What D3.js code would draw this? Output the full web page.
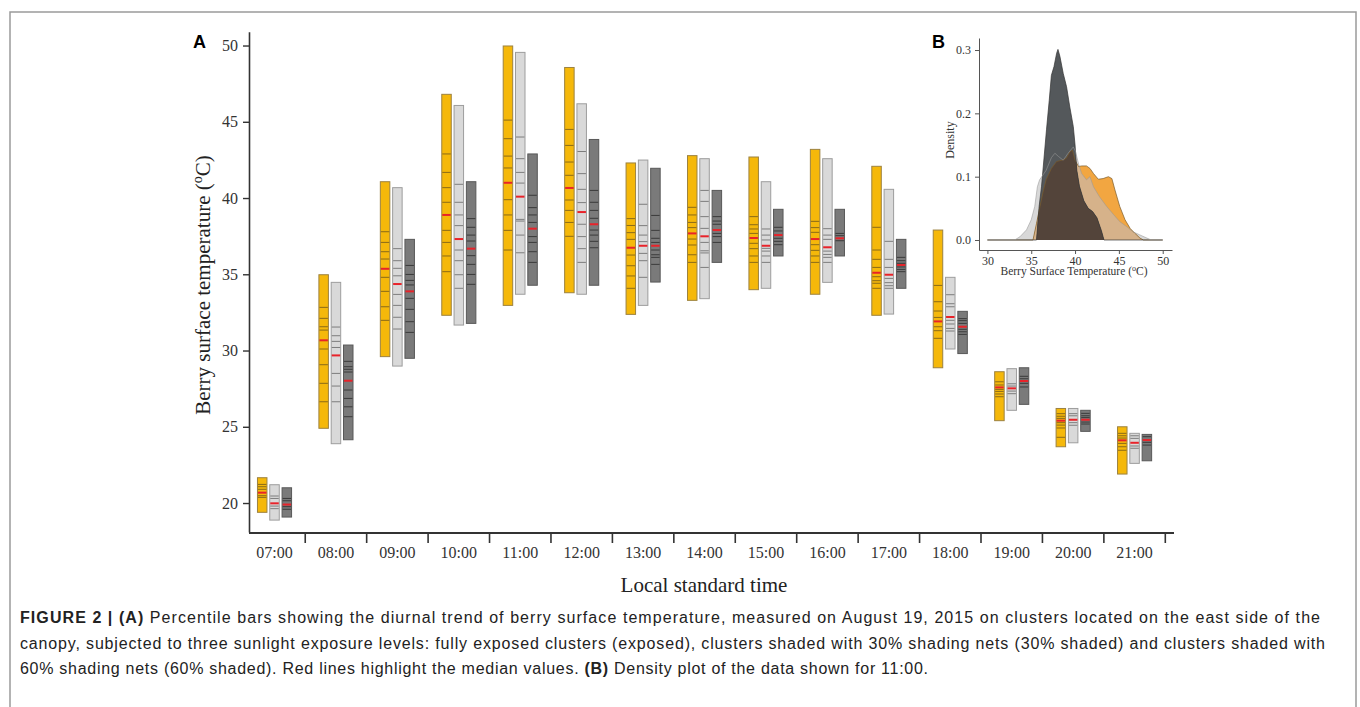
<!DOCTYPE html>
<html>
<head>
<meta charset="utf-8">
<script src="https://cdn.jsdelivr.net/npm/d3@7"></script>
<style>
    body { margin: 0; background: #fff; }
    text { font-family: "Liberation Serif", "Times New Roman", serif; fill: #333; }
    .caption text { font-family: "Liberation Sans", Arial, sans-serif; fill: #222; }
    text.panel { font-family: "Liberation Sans", Arial, sans-serif; font-weight: bold; fill: #000; }
</style>
</head>
<body>
<svg class="chart" width="1360" height="707"></svg>
<script>
'use strict';

// categories
var hours = ["07:00", "08:00", "09:00", "10:00", "11:00", "12:00", "13:00", "14:00",
    "15:00", "16:00", "17:00", "18:00", "19:00", "20:00", "21:00"];
var seriesKeys = ["exposed", "shaded30", "shaded60"];
var yTicks = [20, 25, 30, 35, 40, 45, 50];

// exposed clusters
var exposedMin = [19.39, 24.9, 29.6, 32.31, 32.96, 33.79, 32.37, 33.29, 33.99, 33.69, 32.31, 28.87, 25.4, 23.69, 21.9];
var exposedMax = [21.66, 34.97, 41.07, 46.8, 49.97, 48.56, 42.3, 42.78, 42.69, 43.19, 42.08, 37.9, 28.61, 26.2, 25.0];
var exposedMedian = [20.68, 30.67, 35.36, 38.89, 41.0, 40.66, 36.74, 37.68, 37.38, 37.31, 35.1, 31.91, 27.58, 25.4, 24.11];
var exposedPct = [
    [21.22, 21.07, 20.9, 20.48, 20.37],
    [32.83, 32.11, 31.56, 31.34, 30.1, 29.07, 27.85, 26.64],
    [37.79, 37.09, 36.48, 36.0, 34.8, 33.88, 32.87, 31.98],
    [42.89, 41.68, 40.68, 39.72, 37.88, 37.09, 36.2, 35.17],
    [45.11, 43.89, 42.75, 41.97, 39.89, 38.89, 37.88, 36.59],
    [44.5, 43.45, 42.36, 41.49, 39.87, 39.19, 38.4, 37.49],
    [38.65, 38.2, 37.73, 37.29, 36.26, 35.56, 34.89, 34.08],
    [39.39, 38.89, 38.4, 38.06, 37.31, 36.92, 36.28, 35.78],
    [38.78, 38.25, 37.97, 37.68, 37.03, 36.68, 36.2, 35.78],
    [38.47, 38.06, 37.75, 36.94, 36.57, 36.2, 35.78],
    [38.08, 36.59, 35.98, 35.45, 34.84, 34.58, 34.41, 34.08],
    [34.27, 33.2, 32.59, 32.17, 31.56, 31.3, 30.8],
    [27.95, 27.74, 27.45, 27.32, 27.15, 26.97],
    [25.86, 25.69, 25.55, 25.27, 25.11, 24.92, 24.31],
    [24.57, 24.41, 24.26, 23.91, 23.69, 23.46]
];

// 30% shaded clusters
var shaded30Min = [18.88, 23.89, 28.98, 31.67, 33.69, 33.69, 32.96, 33.4, 34.08, 34.47, 32.39, 30.1, 26.08, 23.95, 22.6];
var shaded30Max = [21.2, 34.47, 40.68, 46.07, 49.55, 46.18, 42.49, 42.58, 41.07, 42.58, 40.57, 34.8, 28.81, 26.2, 24.57];
var shaded30Median = [19.98, 29.68, 34.36, 37.31, 40.09, 39.08, 36.87, 37.49, 36.87, 36.77, 34.97, 32.2, 27.52, 25.46, 23.95];
var shaded30Pct = [
    [20.46, 20.3, 19.8, 19.63],
    [31.54, 30.97, 30.6, 30.2, 28.5, 27.67, 26.64],
    [36.68, 35.89, 35.39, 34.9, 33.68, 32.96, 32.18, 31.41],
    [40.9, 39.72, 38.89, 38.19, 36.59, 35.89, 34.97, 34.08],
    [44.0, 42.58, 41.68, 40.98, 38.6, 38.49, 37.57, 36.41],
    [43.05, 41.6, 40.57, 39.7, 38.28, 37.47, 36.68, 35.78],
    [39.59, 38.19, 37.57, 37.14, 36.37, 35.89, 34.8],
    [40.5, 39.78, 38.78, 38.01, 37.09, 36.54, 36.4, 35.45],
    [37.97, 37.57, 37.25, 36.7, 36.52, 36.2, 35.78],
    [37.99, 37.57, 37.29, 36.52, 36.3, 36.11, 35.78],
    [37.16, 35.98, 35.45, 34.73, 34.45, 34.25, 34.08],
    [33.66, 33.07, 32.87, 31.98, 31.74, 31.45, 31.28],
    [27.82, 27.67, 27.34, 27.17],
    [25.86, 25.72, 25.27, 25.1],
    [24.41, 24.24, 23.74, 23.59]
];

// 60% shaded clusters
var shaded60Min = [19.08, 24.15, 29.49, 31.78, 34.28, 34.28, 34.49, 35.78, 36.2, 36.2, 34.08, 29.8, 26.47, 24.7, 22.77];
var shaded60Max = [21.0, 30.36, 37.29, 41.07, 42.89, 43.84, 41.95, 40.5, 39.26, 39.26, 37.29, 32.57, 28.87, 26.08, 24.5];
var shaded60Median = [19.9, 28.02, 33.88, 36.68, 37.99, 38.28, 36.87, 37.9, 37.57, 37.36, 35.61, 31.56, 28.0, 25.46, 24.13];
var shaded60Pct = [
    [20.3, 20.15, 19.76, 19.59],
    [29.29, 28.94, 28.77, 28.59, 27.41, 26.86, 26.31, 25.66],
    [35.58, 34.99, 34.6, 34.3, 33.42, 32.7, 31.89, 31.19],
    [38.65, 38.08, 37.57, 37.18, 36.22, 35.65, 34.99, 34.34],
    [40.18, 39.37, 38.89, 38.4, 37.47, 37.09, 36.48, 35.78],
    [40.5, 39.72, 39.19, 38.67, 37.9, 37.57, 37.16, 36.74],
    [38.86, 37.88, 37.36, 37.09, 36.59, 36.28, 36.11, 35.65],
    [38.78, 38.49, 38.28, 37.68, 37.47, 37.09],
    [38.08, 37.84, 37.36, 37.16, 36.94],
    [37.68, 37.53, 37.2],
    [36.11, 35.89, 35.72, 35.48, 35.32, 35.17],
    [32.09, 31.96, 31.78, 31.39, 31.23, 31.06],
    [28.31, 28.15, 27.85, 27.61],
    [25.88, 25.72, 25.6, 25.31, 25.18],
    [24.35, 23.98, 23.8]
];

// inset B: density at 11:00, [temperature, density]
var densityTicksX = [30, 35, 40, 45, 50];
var densityTicksY = [0.0, 0.1, 0.2, 0.3];
var exposedDensity = [[30, 0], [35.2, 0], [35.6, 0.026], [36.0, 0.053], [36.4, 0.079], [36.7, 0.095], [37.3, 0.113],
    [37.9, 0.124], [38.5, 0.126], [39.0, 0.129], [39.4, 0.139], [39.7, 0.142], [40.0, 0.126], [40.4, 0.116],
    [40.75, 0.117], [41.3, 0.117], [41.7, 0.113], [42.1, 0.105], [42.65, 0.096], [43.2, 0.097], [43.8, 0.1],
    [44.2, 0.097], [44.55, 0.079], [45.1, 0.053], [45.7, 0.032], [46.3, 0.018], [46.8, 0.011], [47.4, 0.003],
    [47.8, 0], [50, 0]];
var shaded30Density = [[30, 0], [33.1, 0], [33.7, 0.005], [34.46, 0.016], [35.0, 0.032], [35.4, 0.053], [35.7, 0.084],
    [35.95, 0.095], [36.2, 0.1], [36.7, 0.11], [37.3, 0.13], [37.7, 0.137], [38.1, 0.132], [38.65, 0.126],
    [39.2, 0.137], [39.8, 0.147], [40.05, 0.14], [40.4, 0.12], [40.75, 0.105], [41.3, 0.095], [41.7, 0.1],
    [42.1, 0.084], [42.8, 0.068], [43.6, 0.053], [44.4, 0.04], [45.1, 0.029], [45.9, 0.021], [46.6, 0.013],
    [47.4, 0.008], [48.2, 0.003], [48.7, 0], [50, 0]];
var shaded60Density = [[30, 0], [35.6, 0], [35.9, 0.053], [36.17, 0.084], [36.4, 0.12], [36.74, 0.174], [37.05, 0.22],
    [37.3, 0.26], [37.6, 0.274], [37.9, 0.295], [38.05, 0.301], [38.27, 0.29], [38.65, 0.263], [39.03, 0.242],
    [39.4, 0.21], [39.8, 0.179], [40.0, 0.15], [40.2, 0.11], [40.5, 0.085], [41.0, 0.062], [41.5, 0.05],
    [42.0, 0.045], [42.5, 0.035], [43.0, 0.015], [43.3, 0], [50, 0]];

// caption
var captionLines = [
    [["FIGURE 2 | (A)", true], [" Percentile bars showing the diurnal trend of berry surface temperature, measured on August 19, 2015 on clusters located on the east side of the", false]],
    [["canopy, subjected to three sunlight exposure levels: fully exposed clusters (exposed), clusters shaded with 30% shading nets (30% shaded) and clusters shaded with", false]],
    [["60% shading nets (60% shaded). Red lines highlight the median values. ", false], ["(B)", true], [" Density plot of the data shown for 11:00.", false]]
];
var captionWidths = [1300, 1305, 908];

var BAR_STYLE = {
    exposed: { fill: "#f5b80a", stroke: "#9c8240", line: "#8a6a18" },
    shaded30: { fill: "#d9d9d9", stroke: "#9d9d9d", line: "#7d7d7d" },
    shaded60: { fill: "#7a7a7a", stroke: "#585858", line: "#3a3a3a" }
};
var MEDIAN_COLOR = "#e8232a";

var svg = d3.select('.chart');

svg.append("rect")
    .attr("x", 10).attr("y", 12)
    .attr("width", 1346).attr("height", 720)
    .attr("fill", "none")
    .attr("stroke", "#9a9a9a")
    .attr("stroke-width", 1.5);

// scales for the main panel
var xScale = d3.scaleBand()
    .domain(hours)
    .range([243.8, 1165.3]);
var xSub = d3.scaleBand()
    .domain(seriesKeys)
    .range([-17.05, 17.05])
    .paddingInner(0.228);
var yScale = d3.scaleLinear()
    .domain([18.1, 50.9])
    .range([532, 31.8]);

renderMainAxes(svg, xScale, yScale);
renderBars(svg, buildRows(), xScale, xSub, yScale);
renderInset(svg);
renderCaption(svg);

/**
 * Join the per-series arrays into one row per bar
 * @return {Array} rows
 */
function buildRows() {
    var src = {
        exposed: [exposedMin, exposedMax, exposedMedian, exposedPct],
        shaded30: [shaded30Min, shaded30Max, shaded30Median, shaded30Pct],
        shaded60: [shaded60Min, shaded60Max, shaded60Median, shaded60Pct]
    };
    var rows = [];
    seriesKeys.forEach(function (key) {
        hours.forEach(function (h, i) {
            rows.push({
                hour: h, key: key,
                min: src[key][0][i], max: src[key][1][i],
                median: src[key][2][i], pct: src[key][3][i]
            });
        });
    });
    return rows;
}

/**
 * Render axes of panel A
 */
function renderMainAxes(svg, xScale, yScale) {
    var yAxis = d3.axisLeft(yScale)
        .tickValues(yTicks)
        .tickSize(6)
        .tickSizeOuter(0)
        .tickPadding(5);

    var gy = svg.append("g")
        .attr("transform", "translate(249,0)")
        .call(yAxis);
    gy.select(".domain").attr("stroke", "#333").attr("stroke-width", 1.6);
    gy.selectAll(".tick line").attr("stroke", "#333").attr("stroke-width", 1.4);
    gy.selectAll(".tick text").attr("font-size", 16);

    // x axis: labels at band centres, ticks on band edges
    var xAxis = d3.axisBottom(xScale).tickSize(0).tickPadding(14);
    var gx = svg.append("g")
        .attr("transform", "translate(0,533)")
        .call(xAxis);
    gx.select(".domain").remove();
    gx.selectAll(".tick text").attr("font-size", 16);

    gx.append("line")
        .attr("x1", 249).attr("x2", 1174)
        .attr("stroke", "#333").attr("stroke-width", 2);
    gx.selectAll(".edge")
        .data(hours)
        .enter()
        .append("line")
        .attr("class", "edge")
        .attr("x1", function (d) { return xScale(d) + xScale.step(); })
        .attr("x2", function (d) { return xScale(d) + xScale.step(); })
        .attr("y1", 0).attr("y2", 10)
        .attr("stroke", "#333").attr("stroke-width", 1.6);

    var yTitle = svg.append("text")
        .attr("transform", "translate(210,285) rotate(-90)")
        .attr("text-anchor", "middle")
        .attr("font-size", 21)
        .style("fill", "#222");
    yTitle.append("tspan").text("Berry surface temperature (");
    yTitle.append("tspan").attr("font-size", 14).attr("dy", -8).text("o");
    yTitle.append("tspan").attr("dy", 8).text("C)");

    svg.append("text")
        .attr("x", 704).attr("y", 592)
        .attr("text-anchor", "middle")
        .attr("font-size", 21)
        .style("fill", "#222")
        .text("Local standard time");

    svg.append("text")
        .attr("class", "panel")
        .attr("x", 193).attr("y", 48)
        .attr("font-size", 18)
        .text("A");
}

/**
 * Render the percentile bars
 */
function renderBars(svg, rows, xScale, xSub, yScale) {
    var bw = xSub.bandwidth();
    var bar = svg.append("g").selectAll("g")
        .data(rows)
        .enter()
        .append("g")
        .attr("transform", function (d) {
            return "translate(" + (xScale(d.hour) + xScale.bandwidth() / 2 + xSub(d.key)) + ",0)";
        });

    bar.append("rect")
        .attr("y", function (d) { return yScale(d.max); })
        .attr("width", bw)
        .attr("height", function (d) { return yScale(d.min) - yScale(d.max); })
        .attr("fill", function (d) { return BAR_STYLE[d.key].fill; })
        .attr("stroke", function (d) { return BAR_STYLE[d.key].stroke; })
        .attr("stroke-width", 1);

    bar.selectAll(".pct")
        .data(function (d) { return d.pct.map(function (v) { return { v: v, key: d.key }; }); })
        .enter()
        .append("line")
        .attr("class", "pct")
        .attr("x1", 0.5).attr("x2", bw - 0.5)
        .attr("y1", function (d) { return yScale(d.v); })
        .attr("y2", function (d) { return yScale(d.v); })
        .attr("stroke", function (d) { return BAR_STYLE[d.key].line; })
        .attr("stroke-width", 1);

    bar.append("line")
        .attr("x1", 0.5).attr("x2", bw - 0.5)
        .attr("y1", function (d) { return yScale(d.median); })
        .attr("y2", function (d) { return yScale(d.median); })
        .attr("stroke", MEDIAN_COLOR)
        .attr("stroke-width", 2);
}

/**
 * Render the density inset (panel B)
 */
function renderInset(svg) {
    var xs = d3.scaleLinear().domain([29.04, 51.06]).range([979, 1172]);
    var ys = d3.scaleLinear().domain([-0.0158, 0.319]).range([250, 38]);
    var g = svg.append("g");

    var area = d3.area()
        .x(function (d) { return xs(d[0]); })
        .y0(ys(0))
        .y1(function (d) { return ys(d[1]); });
    var line = d3.line()
        .x(function (d) { return xs(d[0]); })
        .y(function (d) { return ys(d[1]); });

    g.append("clipPath").attr("id", "clipExposed")
        .append("path").attr("d", area(exposedDensity));

    g.append("path").attr("d", area(shaded30Density)).attr("fill", "#d8d8d8");
    g.append("path").attr("d", area(exposedDensity)).attr("fill", "#f2a641");
    g.append("path").attr("d", area(shaded30Density)).attr("fill", "#d6b28a")
        .attr("clip-path", "url(#clipExposed)");
    g.append("path").attr("d", area(shaded60Density)).attr("fill", "#54585b");
    g.append("path").attr("d", area(shaded60Density)).attr("fill", "#53443a")
        .attr("clip-path", "url(#clipExposed)");

    g.append("path").attr("d", line(exposedDensity)).attr("fill", "none")
        .attr("stroke", "#7a5a2a").attr("stroke-width", 0.7);
    g.append("path").attr("d", line(shaded60Density)).attr("fill", "none")
        .attr("stroke", "#333").attr("stroke-width", 0.7);
    g.append("path").attr("d", line(shaded30Density)).attr("fill", "none")
        .attr("stroke", "#999").attr("stroke-width", 0.8).attr("stroke-opacity", 0.7);

    var gx = g.append("g").attr("transform", "translate(0,250)")
        .call(d3.axisBottom(xs).tickValues(densityTicksX).tickSize(4).tickSizeOuter(0).tickPadding(2));
    var gy = g.append("g").attr("transform", "translate(979,0)")
        .call(d3.axisLeft(ys).tickValues(densityTicksY).tickSize(4).tickSizeOuter(0).tickPadding(4)
            .tickFormat(d3.format(".1f")));
    [gx, gy].forEach(function (a) {
        a.select(".domain").attr("stroke", "#555").attr("stroke-width", 1);
        a.selectAll(".tick line").attr("stroke", "#555");
        a.selectAll(".tick text").attr("font-size", 12);
    });

    var title = g.append("text")
        .attr("x", 1074).attr("y", 275)
        .attr("text-anchor", "middle")
        .attr("font-size", 11.5);
    title.append("tspan").text("Berry Surface Temperature (");
    title.append("tspan").attr("font-size", 8).attr("dy", -4).text("o");
    title.append("tspan").attr("dy", 4).text("C)");

    g.append("text")
        .attr("transform", "translate(954,140) rotate(-90)")
        .attr("text-anchor", "middle")
        .attr("font-size", 12)
        .text("Density");

    g.append("text")
        .attr("class", "panel")
        .attr("x", 932).attr("y", 48)
        .attr("font-size", 18)
        .text("B");
}

/**
 * Render the figure caption
 */
function renderCaption(svg) {
    var g = svg.append("g").attr("class", "caption");
    captionLines.forEach(function (parts, i) {
        var t = g.append("text")
            .attr("x", 20).attr("y", 623 + i * 25.5)
            .attr("font-size", 16)
            .attr("textLength", captionWidths[i])
            .attr("lengthAdjust", "spacing");
        parts.forEach(function (p) {
            t.append("tspan")
                .attr("font-weight", p[1] ? "bold" : "normal")
                .text(p[0]);
        });
    });
}
</script>
</body>
</html>
